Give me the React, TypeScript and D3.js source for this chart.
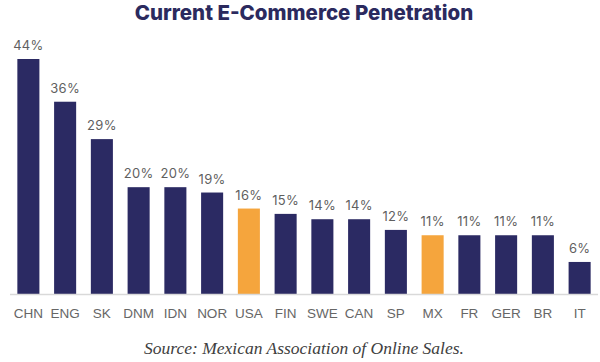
import React from "react";
import * as d3 from "d3";

const categories = ["CHN","ENG","SK","DNM","IDN","NOR","USA","FIN","SWE","CAN","SP","MX","FR","GER","BR","IT"];
const values = [44,36,29,20,20,19,16,15,14,14,12,11,11,11,11,6];
const highlighted = ["USA","MX"];

const W = 600, H = 362;

export default function App() {
  const x = d3.scaleBand<string>().domain(categories).range([10, 598]).paddingInner(0.4).paddingOuter(0.2);
  const y = d3.scaleLinear().domain([0, 44]).range([294, 59]);
  return (
    <svg width={W} height={H} style={{ position: "absolute", left: 0, top: 0 }}>
      <rect width={W} height={H} fill="#fff" />
      <text x={304} y={20} textAnchor="middle" fontFamily="Inter, sans-serif" fontWeight={800} fontSize={20.5} fill="#2B2A5E">Current E-Commerce Penetration</text>
      {categories.map((c, i) => (
        <g key={c}>
          <rect x={x(c)} y={y(values[i])} width={x.bandwidth()} height={y(0) - y(values[i])}
            fill={highlighted.includes(c) ? "#F5A53D" : "#2B2A63"} />
          <text x={(x(c) as number) + x.bandwidth() / 2} y={y(values[i]) - 9} textAnchor="middle"
            fontFamily="Inter, sans-serif" fontSize={13} letterSpacing={0.3} fill="#5f5f5f">{values[i]}%</text>
          <text x={(x(c) as number) + x.bandwidth() / 2} y={318} textAnchor="middle"
            fontFamily="Liberation Sans, Arial, sans-serif" fontSize={13.5} fill="#666666">{c}</text>
        </g>
      ))}
      <line x1={10} x2={598} y1={294.5} y2={294.5} stroke="#D9D9D9" strokeWidth={1.5} />
      <text x={304} y={354} textAnchor="middle" fontFamily="Liberation Serif, Times New Roman, serif" fontStyle="italic" fontSize={17.5} fill="#404040">Source: Mexican Association of Online Sales.</text>
    </svg>
  );
}
